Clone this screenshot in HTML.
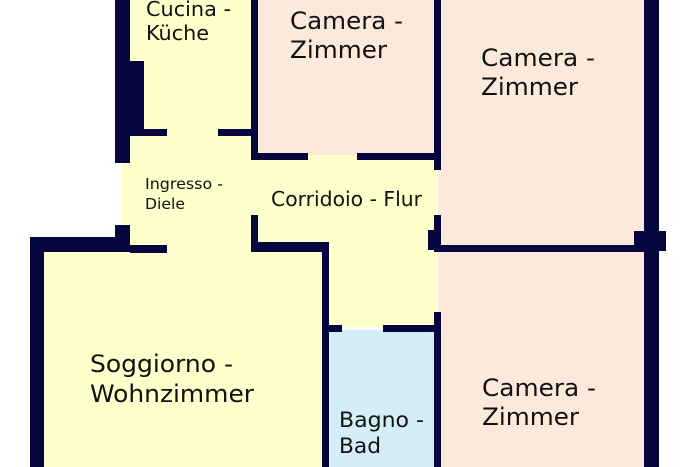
<!DOCTYPE html>
<html><head><style>html,body{margin:0;padding:0;background:#fff;width:680px;height:467px;overflow:hidden}</style></head>
<body>
<svg width="680" height="467" viewBox="0 0 680 467" xmlns="http://www.w3.org/2000/svg" font-family="DejaVu Sans, Liberation Sans, sans-serif">
<g fill="#ffffcc">
<rect x="130" y="0" width="122" height="136"/>
<rect x="122" y="130" width="136" height="120"/>
<rect x="252" y="155" width="186" height="172"/>
<rect x="40" y="245" width="285" height="222"/>
</g>
<rect x="258" y="0" width="178" height="155" fill="#fde8dc"/>
<rect x="438" y="0" width="208" height="248" fill="#fde8dc"/>
<rect x="438" y="250" width="208" height="217" fill="#fde8dc"/>
<rect x="327" y="330" width="110" height="137" fill="#d3eef7"/>
<g fill="#06063f">
<rect x="115" y="0" width="15" height="163"/>
<rect x="130" y="61" width="14" height="75"/>
<rect x="130" y="129" width="37" height="7"/>
<rect x="218" y="129" width="40" height="7"/>
<rect x="251" y="0" width="7" height="160"/>
<rect x="251" y="153" width="57" height="7"/>
<rect x="357" y="153" width="84" height="7"/>
<rect x="434" y="0" width="7" height="170"/>
<rect x="434" y="215" width="7" height="37"/>
<rect x="428" y="230" width="13" height="20"/>
<rect x="644" y="0" width="15" height="467"/>
<rect x="634" y="231" width="32" height="20"/>
<rect x="441" y="245" width="203" height="7"/>
<rect x="115" y="225" width="15" height="27"/>
<rect x="30" y="237" width="100" height="15"/>
<rect x="130" y="245" width="37" height="8"/>
<rect x="30" y="237" width="14" height="230"/>
<rect x="251" y="215" width="7" height="37"/>
<rect x="251" y="242" width="78" height="10"/>
<rect x="322" y="242" width="7" height="225"/>
<rect x="322" y="325" width="20" height="7"/>
<rect x="383" y="325" width="58" height="7"/>
<rect x="434" y="312" width="7" height="155"/>
</g>
<g fill="#111">
<text x="146" y="16" font-size="20" textLength="85" lengthAdjust="spacingAndGlyphs">Cucina -</text>
<text x="146" y="40" font-size="20" textLength="63" lengthAdjust="spacingAndGlyphs">Küche</text>
<text x="290" y="29" font-size="24" textLength="113" lengthAdjust="spacingAndGlyphs">Camera -</text>
<text x="290" y="58" font-size="24" textLength="97" lengthAdjust="spacingAndGlyphs">Zimmer</text>
<text x="481" y="66" font-size="24" textLength="114" lengthAdjust="spacingAndGlyphs">Camera -</text>
<text x="481" y="95" font-size="24" textLength="97" lengthAdjust="spacingAndGlyphs">Zimmer</text>
<text x="145" y="189" font-size="15.5" textLength="78" lengthAdjust="spacingAndGlyphs">Ingresso -</text>
<text x="145" y="209" font-size="15.5" textLength="40" lengthAdjust="spacingAndGlyphs">Diele</text>
<text x="271" y="206" font-size="20" textLength="151" lengthAdjust="spacingAndGlyphs">Corridoio - Flur</text>
<text x="90" y="372" font-size="24" textLength="143" lengthAdjust="spacingAndGlyphs">Soggiorno -</text>
<text x="90" y="402" font-size="24" textLength="164" lengthAdjust="spacingAndGlyphs">Wohnzimmer</text>
<text x="339" y="427" font-size="21" textLength="85" lengthAdjust="spacingAndGlyphs">Bagno -</text>
<text x="339" y="453" font-size="21" textLength="42" lengthAdjust="spacingAndGlyphs">Bad</text>
<text x="482" y="396" font-size="24" textLength="114" lengthAdjust="spacingAndGlyphs">Camera -</text>
<text x="482" y="425" font-size="24" textLength="97" lengthAdjust="spacingAndGlyphs">Zimmer</text>
</g>
</svg>
</body></html>
